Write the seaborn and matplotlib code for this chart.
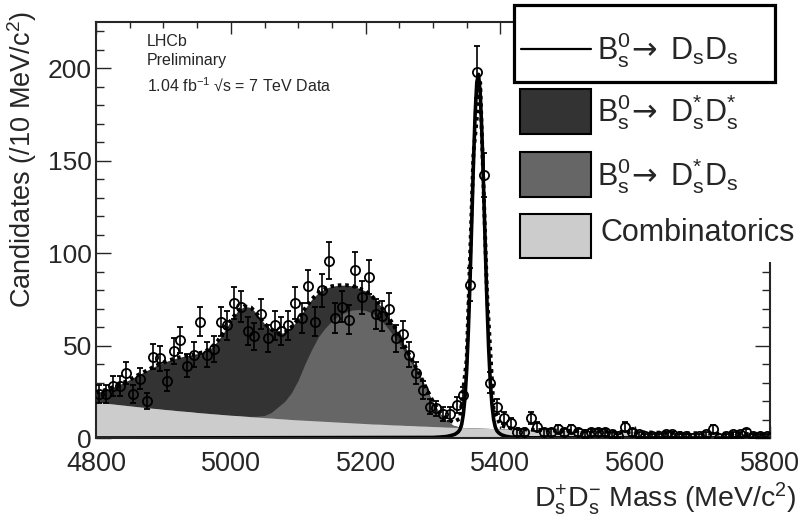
import numpy as np
import pandas as pd
import seaborn as sns
import matplotlib.pyplot as plt
from matplotlib.patches import Rectangle
from matplotlib.lines import Line2D

# data, 10 MeV bins from 4800 to 5800
bin_centres = np.arange(4805, 5800, 10)
candidates = [24, 24, 28, 28, 35, 24, 32, 20, 44, 43,
              31, 47, 53, 39, 45, 63, 45, 48, 63, 61,
              73, 71, 58, 55, 67, 54, 61, 58, 61, 73,
              65, 82, 63, 80, 96, 65, 71, 64, 91, 76,
              87, 67, 66, 70, 54, 56, 45, 35, 26, 17,
              16, 13, 13, 18, 23, 83, 198, 142, 30, 17,
              11, 8, 3, 3, 11, 6, 3, 3, 5, 3,
              5, 3, 2, 3, 3, 3, 2, 1, 6, 3,
              2, 1, 1, 1, 2, 2, 1, 1, 0, 1,
              2, 5, 0, 1, 2, 2, 3, 1, 1, 1]

# fit components on a 10 MeV grid
fit_mass = np.arange(4800, 5810, 10)
comb = [19.5, 19.1, 18.6, 18.2, 17.8, 17.4, 17.0, 16.6, 16.2, 15.9,
        15.5, 15.2, 14.8, 14.5, 14.2, 13.8, 13.5, 13.2, 12.9, 12.6,
        12.3, 12.1, 11.8, 11.5, 11.3, 11.0, 10.8, 10.5, 10.3, 10.0,
        9.8, 9.6, 9.4, 9.2, 9.0, 8.8, 8.6, 8.4, 8.2, 8.0,
        7.8, 7.6, 7.5, 7.3, 7.1, 7.0, 6.8, 6.7, 6.5, 6.4,
        6.2, 6.1, 5.9, 5.8, 5.7, 5.5, 5.4, 5.3, 5.2, 5.1,
        4.9, 4.8, 4.7, 4.6, 4.5, 4.4, 4.3, 4.2, 4.1, 4.0,
        3.9, 3.8, 3.8, 3.7, 3.6, 3.5, 3.4, 3.4, 3.3, 3.2,
        3.1, 3.1, 3.0, 2.9, 2.9, 2.8, 2.7, 2.7, 2.6, 2.6,
        2.5, 2.4, 2.4, 2.3, 2.3, 2.2, 2.2, 2.1, 2.1, 2.0,
        2.0]
dsstar_dsstar = [5.0, 6.4, 8.2, 10.0, 12.0, 14.2, 16.6, 18.9, 21.2, 23.4,
                 25.3, 27.0, 28.5, 29.7, 30.7, 31.8, 33.0, 35.3, 39.3, 44.9,
                 51.3, 56.5, 59.3, 58.9, 54.8, 49.6, 45.0, 39.8, 37.2, 35.5,
                 32.9, 29.9, 27.1, 23.9, 21.3, 18.8, 16.5, 14.8, 13.1, 11.5,
                 10.5, 9.1, 7.7, 6.7, 5.9, 4.5, 3.2, 2.2, 1.5, 1.0,
                 0.7, 0.5, 0.3, 0.1] + [0.0] * 47
dsstar_ds = [0.0] * 22 + [0.1, 0.2, 0.5, 1.2, 3.0, 6.3, 9.5, 14.5,
                          21.5, 30.5, 38.5, 45.5, 50.5, 54.5, 57.5, 59.5, 61.0, 61.5,
                          61.2, 59.8, 57.3, 53.5, 49.0, 44.0, 38.5, 32.5, 26.5, 19.5,
                          12.5, 7.0, 3.2, 1.0, 0.2] + [0.0] * 46

# signal shape, finer steps round the peak
sig_mass = [4800.0, 5300.0, 5310.0] + list(np.arange(5320, 5422.5, 2.5)) + [5430.0, 5440.0, 5800.0]
sig_vals = [0.0, 0.3, 0.5,
            0.8, 1.0, 1.2, 1.4, 1.7, 2.0, 2.6, 3.3, 4.6, 7.3,
            12.8, 21.9, 37.0, 58.5, 85.7, 116.9, 148.4, 175.3, 192.5, 196.7,
            187.0, 165.3, 136.1, 104.2, 74.1, 49.1, 30.3, 17.9, 10.0, 5.8,
            3.8, 2.8, 2.1, 1.6, 1.3, 1.0, 0.8, 0.7, 0.5, 0.45, 0.35,
            0.2, 0.1, 0.0]

c_dark = '#333333'
c_mid = '#666666'
c_light = '#cccccc'

W, H = 807, 517


def box(x0, y0, x1, y1):
    # pixel box (from top-left) -> figure fraction
    return (x0 / W, 1 - y1 / H), (x1 - x0) / W, (y1 - y0) / H


def main():
    sns.set_style('ticks')
    plt.rcParams['font.family'] = ['Liberation Sans', 'DejaVu Sans']
    plt.rcParams['mathtext.fontset'] = 'custom'
    plt.rcParams['mathtext.rm'] = 'Liberation Sans'
    plt.rcParams['mathtext.it'] = 'Liberation Sans:italic'
    plt.rcParams['mathtext.sf'] = 'DejaVu Sans'

    fit = pd.DataFrame({'mass': fit_mass, 'comb': comb,
                        'dd': dsstar_dsstar, 'dsd': dsstar_ds})
    sig_lookup = dict(zip(sig_mass, sig_vals))
    fit['sig'] = [sig_lookup.get(float(m), 0.0) for m in fit['mass']]
    fit['bkg'] = fit['comb'] + fit['dd'] + fit['dsd']
    fit['total'] = fit['bkg'] + fit['sig']
    sig = pd.DataFrame({'mass': sig_mass, 'y': sig_vals})
    data = pd.DataFrame({'mass': bin_centres, 'n': candidates})
    data['err'] = np.sqrt(data['n'])

    fig = plt.figure(figsize=(W / 100, H / 100), dpi=100)
    ax = fig.add_axes([96 / W, 1 - 438 / H, 674 / W, 416 / H])

    # stacked backgrounds
    ax.fill_between(fit['mass'], 0, fit['bkg'], color=c_dark, lw=0)
    ax.fill_between(fit['mass'], 0, fit['comb'] + fit['dsd'], color=c_mid, lw=0)
    ax.fill_between(fit['mass'], 0, fit['comb'], color=c_light, lw=0)

    sns.lineplot(data=fit, x='mass', y='total', ax=ax, color='black', lw=2.8,
                 linestyle=(0, (0.9, 1.0)), estimator=None, sort=True)
    sns.lineplot(data=sig, x='mass', y='y', ax=ax, color='black', lw=2.6,
                 estimator=None, sort=True)

    ax.errorbar(data['mass'], data['n'], yerr=data['err'], fmt='o', ms=6.6,
                mfc='none', mec='black', mew=1.3, ecolor='black', elinewidth=1.2,
                capsize=2.0, capthick=1.2, zorder=5)

    ax.set_xlim(4800, 5800)
    ax.set_ylim(0, 225)
    ax.set_xticks(np.arange(4800, 5801, 200))
    ax.set_xticks(np.arange(4800, 5801, 50), minor=True)
    ax.set_yticks(np.arange(0, 201, 50))
    ax.set_yticks(np.arange(0, 221, 10), minor=True)
    ax.tick_params(which='both', direction='in', top=True, right=True, width=1.0)
    ax.tick_params(axis='x', which='major', length=8.6, labelsize=19.5, pad=9.5)
    ax.tick_params(axis='x', which='minor', length=4.3)
    ax.tick_params(axis='y', which='major', length=10.5, labelsize=19, pad=3)
    ax.tick_params(axis='y', which='minor', length=5.5)
    for s in ax.spines.values():
        s.set_linewidth(1.5)
    ax.set_xlabel('')
    ax.set_ylabel('')

    fig.text(797 / W, 1 - 507 / H, r'D$_\mathrm{s}^\mathrm{+}$D$_\mathrm{s}^\mathrm{-}$ Mass (MeV/c$^\mathrm{2}$)',
             ha='right', va='baseline', fontsize=20.5)
    fig.text(22 / W, 1 - 11 / H, r'Candidates (/10 MeV/c$^\mathrm{2}$)', rotation=90,
             ha='center', va='top', fontsize=19.5)

    fig.text(147 / W, 1 - 46.5 / H, 'LHCb', fontsize=11.5, va='baseline')
    fig.text(147 / W, 1 - 64.5 / H, 'Preliminary', fontsize=11.5, va='baseline')
    fig.text(147 / W, 1 - 90.5 / H, r'1.04 fb$^\mathrm{-1}$ √s = 7 TeV Data', fontsize=11.5, va='baseline')

    # legend, drawn the way ROOT left it
    xy, w, h = box(513, 0, 807, 262)
    fig.add_artist(Rectangle(xy, w, h, transform=fig.transFigure, fc='white', ec='none', zorder=5))
    xy, w, h = box(514, 5, 775, 82)
    fig.add_artist(Rectangle(xy, w, h, transform=fig.transFigure, fc='none', ec='black', lw=2.3, zorder=6))
    fig.add_artist(Line2D([520.7 / W, 590.7 / W], [1 - 49.3 / H, 1 - 49.3 / H],
                          transform=fig.transFigure, color='black', lw=1.6, zorder=6))
    for (y0, y1), col in zip([(89, 134), (152, 196.7), (214, 258)], [c_dark, c_mid, c_light]):
        xy, w, h = box(520, y0, 590.7, y1)
        fig.add_artist(Rectangle(xy, w, h, transform=fig.transFigure, fc=col, ec='black', lw=1.5, zorder=6))
    labels = [r'B$_\mathrm{s}^\mathrm{0}\!\mathsf{\rightarrow}$ D$_\mathrm{s}$D$_\mathrm{s}$',
              r'B$_\mathrm{s}^\mathrm{0}\!\mathsf{\rightarrow}$ D$_\mathrm{s}^\mathrm{*}$D$_\mathrm{s}^\mathrm{*}$',
              r'B$_\mathrm{s}^\mathrm{0}\!\mathsf{\rightarrow}$ D$_\mathrm{s}^\mathrm{*}$D$_\mathrm{s}$',
              'Combinatorics']
    for lab, (x, yb) in zip(labels, [(597, 60), (597, 121.7), (597, 185), (601, 240.7)]):
        fig.text(x / W, 1 - yb / H, lab, fontsize=22, va='baseline', zorder=7)

    plt.savefig('out.png', dpi=100)


if __name__ == '__main__':
    main()
